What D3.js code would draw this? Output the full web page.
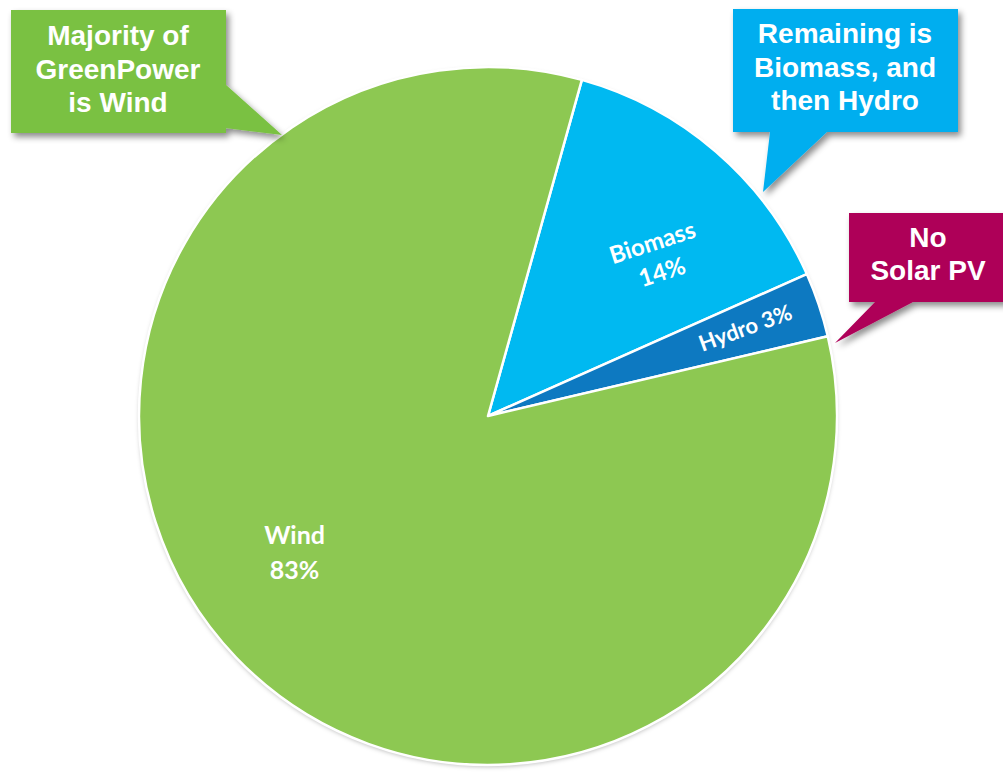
<!DOCTYPE html>
<html>
<head>
<meta charset="utf-8">
<script src="https://cdn.jsdelivr.net/npm/d3@7/dist/d3.min.js"></script>
<style>
  html, body { margin: 0; padding: 0; background: #fff; }
  svg { display: block; }
</style>
</head>
<body>
<svg id="chart" width="1003" height="774"></svg>
<script>
// ---- data ----
const categories = ["Biomass", "Hydro", "Wind"];
const values = [14, 3, 83];
const valueLabels = ["14%", "3%", "83%"];
const calloutTexts = [
  ["Majority of", "GreenPower", "is Wind"],
  ["Remaining is", "Biomass, and", "then Hydro"],
  ["No", "Solar PV"]
];

// ---- styles / layout ----
const colors = { Biomass: "#00B9F1", Hydro: "#0D79C1", Wind: "#8DC852" };
const cx = 488, cy = 416, R = 349;
const startDeg = 15.6;

const svg = d3.select("#chart");
const defs = svg.append("defs");
const sh = defs.append("filter").attr("id", "boxShadow")
  .attr("x", "-20%").attr("y", "-20%").attr("width", "150%").attr("height", "160%");
sh.append("feDropShadow").attr("dx", 3).attr("dy", 4).attr("stdDeviation", 3)
  .attr("flood-color", "#000").attr("flood-opacity", 0.45);
const ps = defs.append("filter").attr("id", "pieShadow")
  .attr("x", "-10%").attr("y", "-10%").attr("width", "120%").attr("height", "120%");
ps.append("feDropShadow").attr("dx", 0).attr("dy", 2).attr("stdDeviation", 2)
  .attr("flood-color", "#000").attr("flood-opacity", 0.25);

const data = categories.map((c, i) => ({ cat: c, value: values[i], label: valueLabels[i] }));

const pie = d3.pie().value(d => d.value).sort(null)
  .startAngle(startDeg * Math.PI / 180)
  .endAngle(startDeg * Math.PI / 180 + 2 * Math.PI);
const arcs = pie(data);
const arc = d3.arc().innerRadius(0).outerRadius(R);

const g = svg.append("g").attr("transform", `translate(${cx},${cy})`);
g.append("circle").attr("r", R).attr("fill", "#fff").attr("filter", "url(#pieShadow)");
g.selectAll("path.slice").data(arcs).enter().append("path")
  .attr("class", "slice")
  .attr("d", arc)
  .attr("fill", d => colors[d.data.cat])
  .attr("stroke", "#fff")
  .attr("stroke-width", 2.5)
  .attr("stroke-linejoin", "round");

// slice labels
const labelStyle = {
  Biomass: { r: 232, dAng: 6, rot: -18, lines: d => [d.data.cat, d.data.label], size: 24, lh: 31 },
  Hydro:   { r: 272, dAng: -0.3, rot: -20, lines: d => [d.data.cat + " " + d.data.label], size: 22, lh: 30 },
  Wind:    { r: 237, dAng: 8.5, rot: 0, lines: d => [d.data.cat, d.data.label], size: 25, lh: 35 }
};
arcs.forEach(d => {
  const st = labelStyle[d.data.cat];
  const mid = (d.startAngle + d.endAngle) / 2 + st.dAng * Math.PI / 180;
  const x = Math.sin(mid) * st.r, y = -Math.cos(mid) * st.r;
  const lines = st.lines(d);
  const t = g.append("text")
    .attr("transform", `translate(${x},${y}) rotate(${st.rot})`)
    .attr("text-anchor", "middle")
    .attr("fill", "#fff")
    .attr("font-family", "Lato, 'Open Sans', sans-serif")
    .attr("font-weight", 700)
    .attr("font-size", st.size);
  lines.forEach((ln, i) => {
    t.append("tspan").attr("x", 0)
      .attr("y", (i - (lines.length - 1) / 2) * st.lh + st.size * 0.35)
      .text(ln);
  });
});

// callouts
const callouts = [
  { text: calloutTexts[0], fill: "#7AC143", box: [11, 10, 215, 123],
    tail: [[226, 84], [282, 135], [226, 128]], tx: 118, base: 45, lh: 33.5 },
  { text: calloutTexts[1], fill: "#00AEEF", box: [733, 9, 225, 123],
    tail: [[770, 132], [763, 192], [827, 132]], tx: 845, base: 43, lh: 33.5 },
  { text: calloutTexts[2], fill: "#AE0058", box: [849, 213, 160, 89],
    tail: [[875, 302], [835, 343], [913, 302]], tx: 928, base: 247, lh: 33 }
];
callouts.forEach(c => {
  const cg = svg.append("g").attr("filter", "url(#boxShadow)");
  const [bx, by, bw, bh] = c.box;
  const t = c.tail;
  cg.append("path")
    .attr("d", `M${bx},${by}H${bx + bw}V${by + bh}` +
      (t[0][1] === by + bh
        ? `H${t[2][0]}L${t[1][0]},${t[1][1]}L${t[0][0]},${t[0][1]}H${bx}Z`
        : `H${bx}V${by}Z M${t[0][0] - 1},${t[0][1]}L${t[1][0]},${t[1][1]}L${t[2][0] - 1},${t[2][1]}Z`))
    .attr("fill", c.fill);
  const tt = svg.append("text")
    .attr("text-anchor", "middle")
    .attr("fill", "#fff")
    .attr("font-family", "'Liberation Sans', Arial, sans-serif")
    .attr("font-weight", 700)
    .attr("font-size", 28);
  c.text.forEach((ln, i) => {
    tt.append("tspan").attr("x", c.tx).attr("y", c.base + i * c.lh).text(ln);
  });
});
</script>
</body>
</html>
